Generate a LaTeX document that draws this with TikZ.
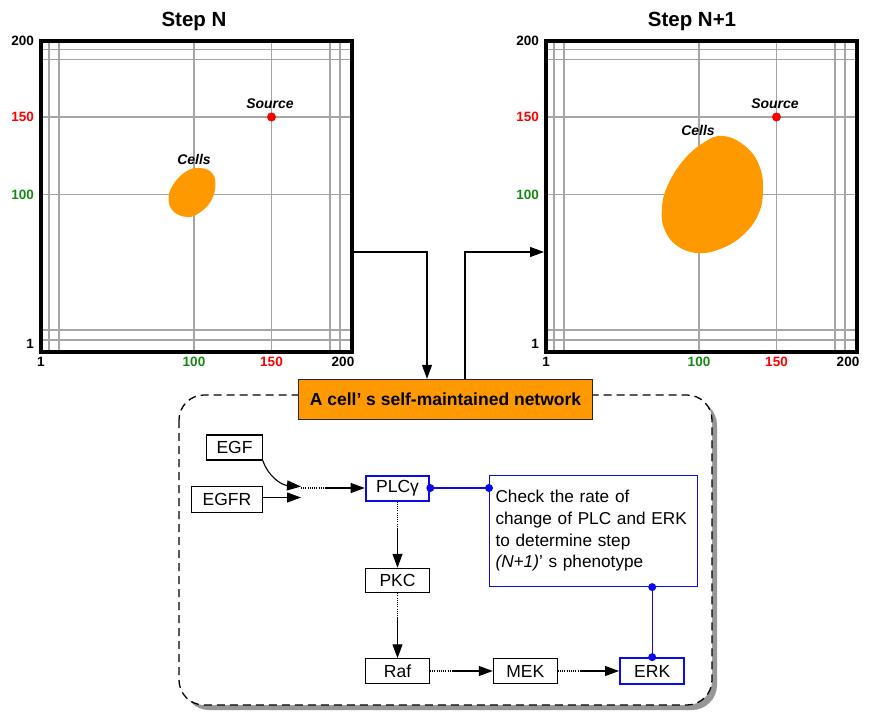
\documentclass[tikz,border=0pt]{standalone}
\usepackage{fontspec}
\setmainfont{Liberation Sans}
\usetikzlibrary{arrows.meta,calc}
\definecolor{orng}{RGB}{255,153,0}
\definecolor{grn}{RGB}{20,135,20}
\definecolor{gridgray}{RGB}{165,165,165}
\definecolor{shadowgray}{RGB}{150,150,150}
\definecolor{blu}{RGB}{10,10,235}
\newcommand{\mygrid}[2]{%
  \foreach \d in {10,20,155,232.5,291,301} {
    \draw[gridline] (#1+\d,39) -- (#1+\d,350);
  }
  \foreach \d in {10.5,20.5,78,155.5,291,301} {
    \draw[gridline] (#1,39+\d) -- (#1+311,39+\d);
  }
  \node[gridframe, anchor=north west] (#2) at (#1,39) {};
  \node[ticklab, anchor=east] at (#1-5,41) {200};
  \node[ticklab, anchor=east, text=red] at (#1-5,117) {150};
  \node[ticklab, anchor=east, text=grn] at (#1-5,195) {100};
  \node[ticklab, anchor=east] at (#1-5,344) {1};
  \node[ticklab] at (#1+2,362) {1};
  \node[ticklab, text=grn] at (#1+155,362) {100};
  \node[ticklab, text=red] at (#1+232.5,362) {150};
  \node[ticklab] at (#1+304,362) {200};
  \fill[red] (#1+232.5,117) circle (4.5);
  \node[lbl] at (#1+231,104) {Source};
}
\begin{document}
\begin{tikzpicture}[x=1pt,y=-1pt,
  gridline/.style={draw=gridgray, line width=1.6},
  gridframe/.style={draw=black, line width=3.5, minimum width=311, minimum height=311, inner sep=0},
  ticklab/.style={font=\fontsize{13.5}{15}\selectfont\bfseries, inner sep=0},
  lbl/.style={font=\fontsize{14}{16}\selectfont\bfseries\itshape, inner sep=0},
  ttl/.style={font=\fontsize{20.5}{24}\selectfont\bfseries, inner sep=0},
  nbox/.style={draw=black, line width=1.1, inner sep=0, minimum height=25, font=\fontsize{17.5}{20}\selectfont},
  bbox/.style={nbox, draw=blu, line width=2},
  arr/.style={draw=black, line width=1.1, -{Triangle[length=14,width=10]}},
  dotl/.style={draw=black, line width=1.1, dash pattern=on 1pt off 1.2pt},
  bline/.style={draw=blu, line width=1.1},
  bdot/.style={fill=blu}
]
\useasboundingbox (0,0) rectangle (870,720);

% titles
\node[ttl] (tN) at (194,21) {Step N};
\node[ttl] (tN1) at (692,21) {Step N+1};

% grids
\mygrid{39}{gridL}
\mygrid{544}{gridR}

% cells
\fill[orng] plot[smooth cycle, tension=0.7] coordinates {(199,168) (211,172) (215.5,184) (211,201) (199,213) (187,217) (173,211) (168.5,197) (175,182) (187,171)};
\node[lbl] (cellsL) at (194,159) {Cells};
\fill[orng] plot[smooth cycle, tension=0.7] coordinates {(723,136) (745,146) (759,165) (763,190) (758,215) (742,236) (720,249) (697,253) (676,245) (664,228) (662,208) (667,187) (682,162) (703,143)};
\node[lbl] (cellsR) at (698,130) {Cells};

% network container
\fill[shadowgray, rounded corners=25] (184,400) rectangle (717,710);
\draw[black, line width=1.3, dash pattern=on 8pt off 5pt, fill=white, rounded corners=25] (179,395) rectangle (712,705);
\node[draw=black!85, line width=1, fill=orng, minimum width=294, minimum height=40, inner sep=0,
      font=\fontsize{17.5}{20}\selectfont\bfseries] (cellnet) at (445.5,399.3) {A cell’ s self-maintained network};

% grid to network connectors
\coordinate (c1) at (427,252);
\coordinate (c2) at (465,252);
\draw[arr] (gridL.east |- c1) -- (c1) -- (c1 |- cellnet.north);
\draw[arr] (c2 |- cellnet.north) -- (c2) -- (gridR.west |- c2);

% network nodes
\node[nbox, minimum width=55.6] (EGF) at (234.5,447.5) {EGF};
\node[nbox, minimum width=70.6, minimum height=25.6] (EGFR) at (227,499.5) {EGFR};
\node[bbox, minimum width=63.6] (PLC) at (397.5,488) {PLCγ};
\node[nbox, minimum width=64, minimum height=24.4] (PKC) at (397.5,580.5) {PKC};
\node[nbox, minimum width=64, minimum height=24.4] (Raf) at (397.5,671) {Raf};
\node[nbox, minimum width=64, minimum height=24.4] (MEK) at (525.3,671) {MEK};
\node[bbox, minimum width=64.3, minimum height=25.7] (ERK) at (652.2,671) {ERK};
\node[draw=blu, line width=1.1, anchor=north west, minimum width=208, minimum height=111.3,
      text width=196, align=left, inner sep=0, font=\fontsize{17.2}{21.7}\selectfont] (chk) at (489,474.7)
  {Check the rate of\\change of PLC and ERK\\to determine step\\\textit{(N+1)}’ s phenotype};

% EGF / EGFR to PLCgamma
\coordinate (mA) at (301,486.5);
\coordinate (mB) at (301,497.5);
\coordinate (m1) at (301,488);
\coordinate (m2) at (325,488);
\draw[arr] (EGF.south east) .. controls (268,476) and (281,485) .. (mA);
\draw[arr] (EGFR.east |- mB) -- (mB);
\draw[dotl] (m1) -- (m2);
\draw[arr] (m2) -- (PLC.west);

% PLC -> PKC -> Raf -> MEK -> ERK
\coordinate (p1) at ($(PLC.south)+(0,26)$);
\draw[dotl] (PLC.south) -- (p1);
\draw[arr] (p1) -- (PKC.north);
\coordinate (p2) at ($(PKC.south)+(0,24)$);
\draw[dotl] (PKC.south) -- (p2);
\draw[arr] (p2) -- (Raf.north);
\coordinate (p3) at ($(Raf.east)+(22,0)$);
\draw[dotl] (Raf.east) -- (p3);
\draw[arr] (p3) -- (MEK.west);
\coordinate (p4) at ($(MEK.east)+(22,0)$);
\draw[dotl] (MEK.east) -- (p4);
\draw[arr] (p4) -- (ERK.west);

% blue links
\draw[bline] (PLC.east) -- (chk.west |- PLC.east);
\fill[bdot] (PLC.east) circle (4);
\fill[bdot] (chk.west |- PLC.east) circle (4);
\draw[bline] (ERK.north |- chk.south) -- (ERK.north);
\fill[bdot] (ERK.north |- chk.south) circle (4);
\fill[bdot] (ERK.north) circle (4);
\end{tikzpicture}
\end{document}
